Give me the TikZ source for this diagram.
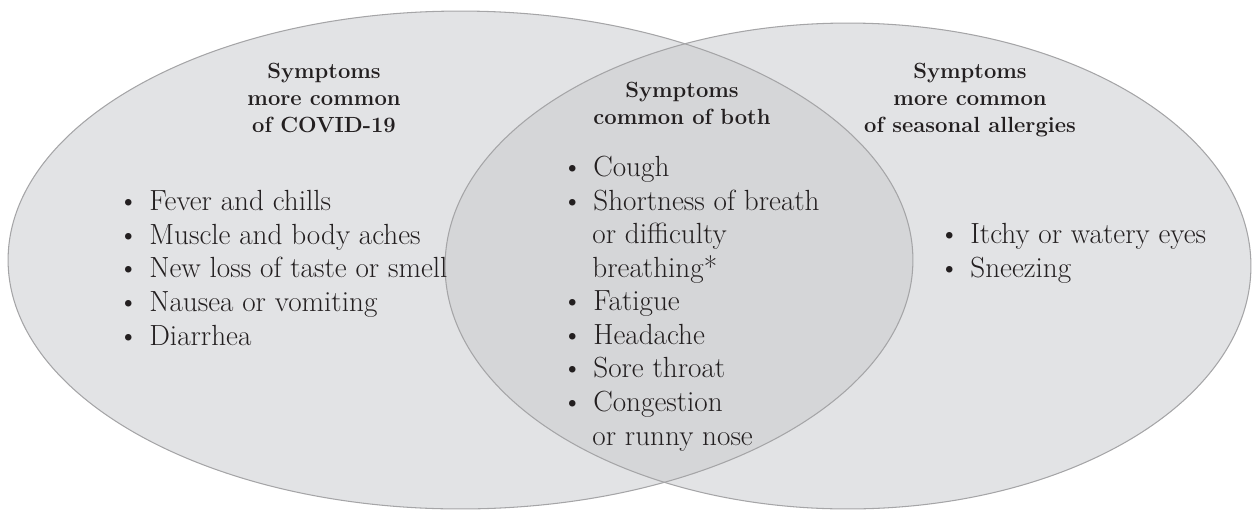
\documentclass[tikz,border=0pt]{standalone}
\usepackage{tikz}
\usetikzlibrary{positioning}

\definecolor{vennfill}{RGB}{226,227,229}
\definecolor{vennboth}{RGB}{213,214,216}
\definecolor{vennline}{RGB}{165,165,167}
\definecolor{inktext}{RGB}{35,31,32}

\begin{document}
\begin{tikzpicture}[x=0.02cm, y=-0.02cm,
		head/.style={align=center, inner sep=0pt, anchor=base, text=inktext,
			font=\fontsize{12.5}{15.2}\selectfont\bfseries},
		items/.style={align=left, inner sep=0pt, anchor=base west, text=inktext,
			font=\fontsize{16.6}{19.1}\selectfont}]
	\useasboundingbox (0,0) rectangle (1253,511);
	
	\coordinate (cl) at (460.5,260);
	\coordinate (cr) at (848,266);
	
	\fill[vennfill] (cl) ellipse [x radius=9.05cm, y radius=4.98cm];
	\fill[vennfill] (cr) ellipse [x radius=8.06cm, y radius=4.86cm];
	\begin{scope}
		\clip (cl) ellipse [x radius=9.05cm, y radius=4.98cm];
		\fill[vennboth] (cr) ellipse [x radius=8.06cm, y radius=4.86cm];
	\end{scope}
	\draw[vennline, line width=0.6pt] (cl) ellipse [x radius=9.05cm, y radius=4.98cm];
	\draw[vennline, line width=0.6pt] (cr) ellipse [x radius=8.06cm, y radius=4.86cm];
	
	% headings (anchored at the last line)
	\node[head] (hcovid) at (324,132) {Symptoms\\more common\\of COVID-19};
	\node[head] (hboth) at (682,124) {Symptoms\\common of both};
	\node[head] (hallergy) at (970,132) {Symptoms\\more common\\of seasonal allergies};
	
	% lists
	\node[items] (lcovid) at (117.5,345) {\textbullet\hspace{0.36em}Fever and chills\\
		\textbullet\hspace{0.36em}Muscle and body aches\\
		\textbullet\hspace{0.36em}New loss of taste or smell\\
		\textbullet\hspace{0.36em}Nausea or vomiting\\
		\textbullet\hspace{0.36em}Diarrhea};
	\node[items] (lboth) at (561.5,445) {\textbullet\hspace{0.36em}Cough\\
		\textbullet\hspace{0.36em}Shortness of breath\\
		\hspace*{1.05em}or difficulty\\
		\hspace*{1.05em}breathing*\\
		\textbullet\hspace{0.36em}Fatigue\\
		\textbullet\hspace{0.36em}Headache\\
		\textbullet\hspace{0.36em}Sore throat\\
		\textbullet\hspace{0.36em}Congestion\\
		\hspace*{1.05em}or runny nose};
	\node[items] (lallergy) at (938.5,277) {\textbullet\hspace{0.36em}Itchy or watery eyes\\
		\textbullet\hspace{0.36em}Sneezing};
\end{tikzpicture}
\end{document}
